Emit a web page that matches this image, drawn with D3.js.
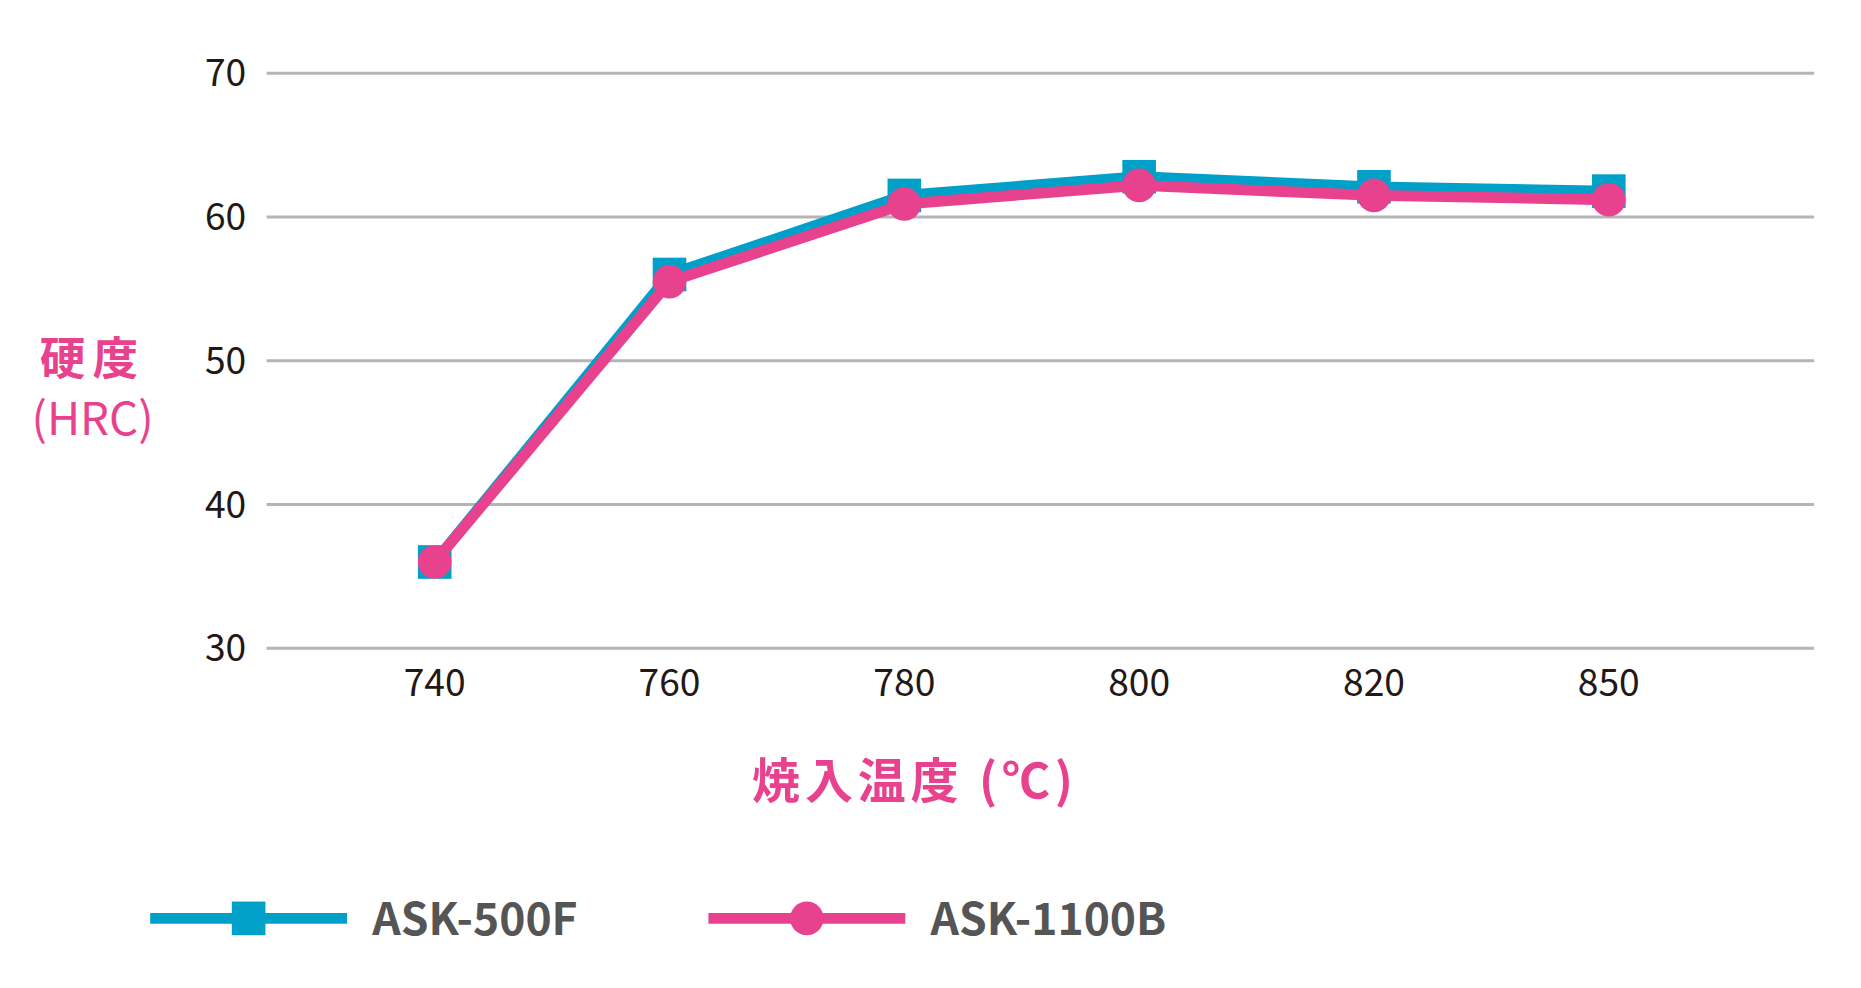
<!DOCTYPE html><html><head><meta charset="utf-8">
<script src="https://cdn.jsdelivr.net/npm/d3@7"></script>
<style>body{margin:0;background:#fff}</style></head><body>
<svg id="c" width="1861" height="988" viewBox="0 0 1550 823"></svg>
<script>
const categories=["740","760","780","800","820","850"];
const ask500F=[36,56,61.5,62.8,62.1,61.8];
const ask1100B=[36,55.5,60.9,62.2,61.5,61.2];
const yTicks=[30,40,50,60,70];
const blue="#00a0c9",pink="#e8428f";
const svg=d3.select("#c");
const x=d3.scalePoint().domain(categories).range([362,1340]);
const y=d3.scaleLinear().domain([30,70]).range([540,61]);
const font="'Noto Sans CJK JP','Noto Sans',sans-serif";
svg.append("g").selectAll("line").data(yTicks).join("line")
 .attr("x1",222).attr("x2",1511).attr("y1",d=>y(d)).attr("y2",d=>y(d))
 .attr("stroke","#b5b5b5").attr("stroke-width",2.5);
svg.append("g").selectAll("text").data(yTicks).join("text")
 .attr("x",205).attr("y",d=>y(d)+11).attr("text-anchor","end")
 .attr("font-family",font).attr("font-size",31).attr("fill","#231815").text(d=>d);
svg.append("g").selectAll("text").data(categories).join("text")
 .attr("x",d=>x(d)).attr("y",580).attr("text-anchor","middle")
 .attr("font-family",font).attr("font-size",31).attr("fill","#231815").text(d=>d);
const line=d3.line().x((d,i)=>x(categories[i])).y(d=>y(d));
svg.append("path").attr("d",line(ask500F)).attr("fill","none").attr("stroke",blue).attr("stroke-width",9);
svg.append("g").selectAll("rect").data(ask500F).join("rect")
 .attr("x",(d,i)=>x(categories[i])-14).attr("y",d=>y(d)-14).attr("width",28).attr("height",28).attr("fill",blue);
svg.append("path").attr("d",line(ask1100B)).attr("fill","none").attr("stroke",pink).attr("stroke-width",9);
svg.append("g").selectAll("circle").data(ask1100B).join("circle")
 .attr("cx",(d,i)=>x(categories[i])).attr("cy",d=>y(d)).attr("r",14).attr("fill",pink);
svg.append("text").attr("x",77).attr("y",312).attr("text-anchor","middle").attr("font-family",font)
 .attr("font-weight","bold").attr("font-size",38).attr("fill",pink).attr("letter-spacing",6).text("硬度");
svg.append("text").attr("x",77).attr("y",362).attr("text-anchor","middle").attr("font-family",font)
 .attr("font-size",38).attr("fill",pink).text("(HRC)");
svg.append("text").attr("x",762).attr("y",665).attr("text-anchor","middle").attr("font-family",font)
 .attr("font-weight","bold").attr("font-size",40).attr("fill",pink).attr("letter-spacing",4).text("焼入温度 (℃)");
const leg=[{n:"ASK-500F",c:blue,s:"sq",x0:125},{n:"ASK-1100B",c:pink,s:"ci",x0:590}];
leg.forEach(l=>{
 svg.append("line").attr("x1",l.x0).attr("x2",l.x0+164).attr("y1",765).attr("y2",765).attr("stroke",l.c).attr("stroke-width",9);
 if(l.s==="sq") svg.append("rect").attr("x",l.x0+68).attr("y",751).attr("width",28).attr("height",28).attr("fill",l.c);
 else svg.append("circle").attr("cx",l.x0+82).attr("cy",765).attr("r",14).attr("fill",l.c);
 svg.append("text").attr("x",l.x0+185).attr("y",779).attr("font-family",font).attr("font-weight","bold")
  .attr("font-size",37).attr("fill","#555").text(l.n);
});
</script></body></html>
